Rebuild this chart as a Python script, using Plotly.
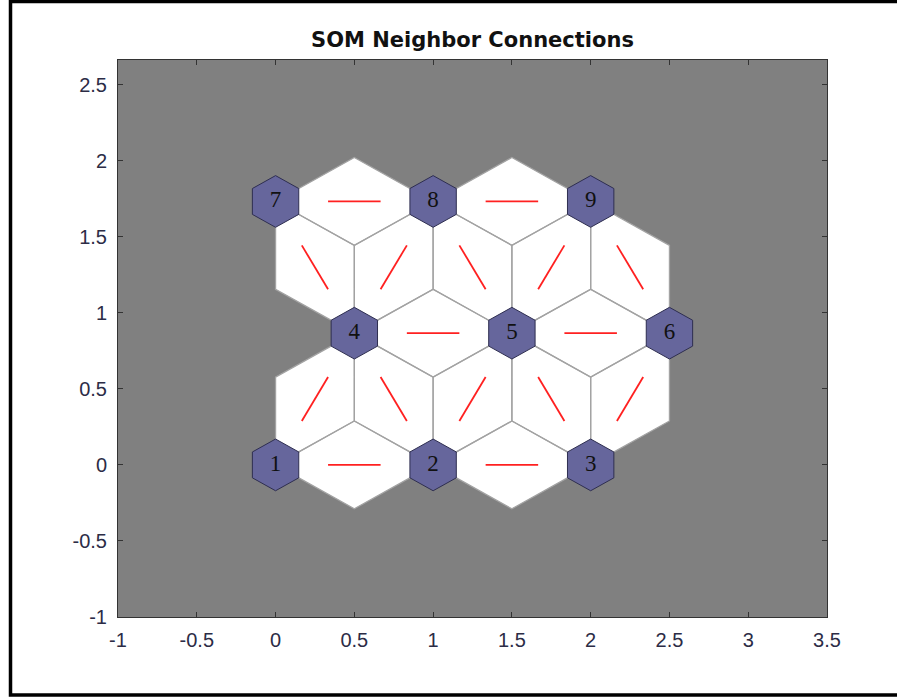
import math
import plotly.graph_objects as go

# ---- data ----
neuron_ids = [1, 2, 3, 4, 5, 6, 7, 8, 9]
neuron_x = [0.0, 1.0, 2.0, 0.5, 1.5, 2.5, 0.0, 1.0, 2.0]
neuron_y = [0.0, 0.0, 0.0, 0.866, 0.866, 0.866, 1.732, 1.732, 1.732]
conn_from = [1, 2, 4, 5, 7, 8, 4, 4, 5, 5, 6, 7, 8, 8, 9, 9]
conn_to = [2, 3, 5, 6, 8, 9, 1, 2, 2, 3, 3, 4, 4, 5, 5, 6]

x_tick_vals = [-1, -0.5, 0, 0.5, 1, 1.5, 2, 2.5, 3, 3.5]
x_tick_text = ["-1", "-0.5", "0", "0.5", "1", "1.5", "2", "2.5", "3", "3.5"]
y_tick_vals = [-1, -0.5, 0, 0.5, 1, 1.5, 2, 2.5]
y_tick_text = ["-1", "-0.5", "0", "0.5", "1", "1.5", "2", "2.5"]

title_text = "SOM Neighbor Connections"

# ---- style ----
HEX_R = 0.17
BG = "#808080"
NEURON_FILL = "#66669c"
NEURON_EDGE = "#2e2e50"
EDGE_GRAY = "#a3a3a3"
TICK_COLOR = "#2c2c46"

pos = {i: (x, y) for i, x, y in zip(neuron_ids, neuron_x, neuron_y)}

# rhombus cells between connected neurons
rx, ry = [], []
lx, ly = [], []
for a, b in zip(conn_from, conn_to):
    x1, y1 = pos[a]
    x2, y2 = pos[b]
    dx, dy = x2 - x1, y2 - y1
    mx, my = (x1 + x2) / 2, (y1 + y2) / 2
    k = 1 / (2 * math.sqrt(3))
    nx, ny = -dy * k, dx * k
    rx += [x1, mx + nx, x2, mx - nx, x1, None]
    ry += [y1, my + ny, y2, my - ny, y1, None]
    lx += [x1 + dx / 3, x1 + 2 * dx / 3, None]
    ly += [y1 + dy / 3, y1 + 2 * dy / 3, None]

# neuron hexagons (pointy top)
hx, hy = [], []
for x, y in zip(neuron_x, neuron_y):
    for j in range(7):
        ang = math.radians(90 + 60 * j)
        hx.append(x + HEX_R * math.cos(ang))
        hy.append(y + HEX_R * math.sin(ang))
    hx.append(None)
    hy.append(None)

fig = go.Figure()
fig.add_trace(go.Scatter(x=rx, y=ry, mode="lines", fill="toself",
                         fillcolor="white",
                         line=dict(color=EDGE_GRAY, width=1.3),
                         hoverinfo="skip", showlegend=False))
fig.add_trace(go.Scatter(x=lx, y=ly, mode="lines",
                         line=dict(color="#ff2020", width=1.8),
                         hoverinfo="skip", showlegend=False))
fig.add_trace(go.Scatter(x=hx, y=hy, mode="lines", fill="toself",
                         fillcolor=NEURON_FILL,
                         line=dict(color=NEURON_EDGE, width=1),
                         hoverinfo="skip", showlegend=False))
fig.add_trace(go.Scatter(x=neuron_x, y=neuron_y, mode="text",
                         text=[str(i) for i in neuron_ids],
                         textposition="middle center",
                         textfont=dict(family="Liberation Serif", size=23, color="#111111"),
                         hoverinfo="skip", showlegend=False))

W, H = 897, 700
ML, MR, MT, MB = 118, 70, 60, 83
pw, ph = W - ML - MR, H - MT - MB


def px2x(p):
    return (p - ML) / pw


def py2y(p):
    return (H - MB - p) / ph


xl, xr = px2x(10.5), px2x(930)
yt, yb = py2y(1.5), py2y(695)

fig.update_layout(
    width=W, height=H,
    margin=dict(l=ML, r=MR, t=MT, b=MB),
    paper_bgcolor="white",
    plot_bgcolor=BG,
    title=dict(text=title_text, x=0.5, xref="paper", xanchor="center",
               y=1 - 40 / H, yref="container", yanchor="middle",
               font=dict(family="DejaVu Sans", size=21, color="#111111", weight="bold")),
    xaxis=dict(range=[-1, 3.5], tickvals=x_tick_vals, ticktext=x_tick_text,
               ticks="inside", ticklen=5, tickcolor="#333333", tickwidth=1,
               showline=True, linecolor="#333333", linewidth=1, mirror="ticks",
               showgrid=False, zeroline=False, ticklabelstandoff=5,
               tickfont=dict(family="Liberation Sans", size=20, color=TICK_COLOR)),
    yaxis=dict(range=[-1, 2.662], tickvals=y_tick_vals, ticktext=y_tick_text,
               ticks="inside", ticklen=5, tickcolor="#333333", tickwidth=1,
               showline=True, linecolor="#333333", linewidth=1, mirror="ticks",
               showgrid=False, zeroline=False, ticklabelstandoff=6,
               tickfont=dict(family="Liberation Sans", size=20, color=TICK_COLOR)),
    shapes=[dict(type="path", xref="paper", yref="paper",
                 path=f"M {xr},{yt} L {xl},{yt} L {xl},{yb} L {xr},{yb}",
                 line=dict(color="black", width=3.5))],
)

fig.write_html("out.html",
               config={"displayModeBar": False},
               post_script="document.body.style.margin='0px';document.body.style.overflow='hidden';")
